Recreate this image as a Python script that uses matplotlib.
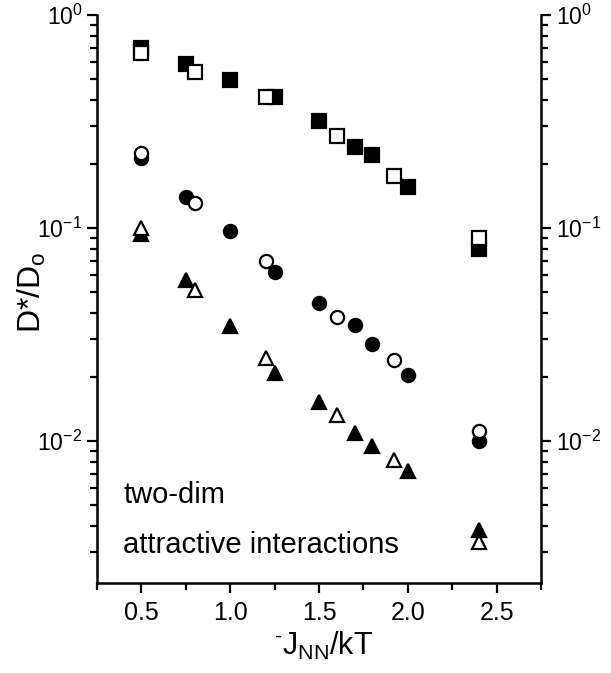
import matplotlib
matplotlib.use("Agg")
import matplotlib.pyplot as plt
from matplotlib.ticker import LogLocator, MultipleLocator, NullFormatter

plt.rcParams['font.family'] = ['Liberation Sans', 'DejaVu Sans']
plt.rcParams['mathtext.fontset'] = 'custom'
plt.rcParams['mathtext.rm'] = 'Liberation Sans'
plt.rcParams['mathtext.it'] = 'Liberation Sans'
plt.rcParams['mathtext.default'] = 'regular'

# squares
sq_fill_x = [0.5, 0.75, 1.0, 1.25, 1.5, 1.7, 1.8, 2.0, 2.4]
sq_fill_y = [0.70, 0.587, 0.495, 0.41, 0.318, 0.239, 0.219, 0.156, 0.080]
sq_open_x = [0.5, 0.8, 1.2, 1.6, 1.92, 2.4]
sq_open_y = [0.66, 0.542, 0.41, 0.271, 0.176, 0.0895]

# circles
ci_fill_x = [0.5, 0.75, 1.0, 1.25, 1.5, 1.7, 1.8, 2.0, 2.4]
ci_fill_y = [0.212, 0.139, 0.097, 0.0624, 0.0443, 0.0349, 0.0284, 0.0204, 0.0100]
ci_open_x = [0.5, 0.8, 1.2, 1.6, 1.92, 2.4]
ci_open_y = [0.224, 0.131, 0.0703, 0.0381, 0.024, 0.0111]

# triangles
tr_fill_x = [0.5, 0.75, 1.0, 1.25, 1.5, 1.7, 1.8, 2.0, 2.4]
tr_fill_y = [0.0934, 0.057, 0.0347, 0.0209, 0.0152, 0.0109, 0.0095, 0.0072, 0.00382]
tr_open_x = [0.5, 0.8, 1.2, 1.6, 1.92, 2.4]
tr_open_y = [0.0995, 0.0512, 0.0244, 0.0133, 0.0081, 0.00334]

fig = plt.figure(figsize=(6.11, 6.73), dpi=100)
ax = fig.add_axes([0.1588, 0.1337, 0.7266, 0.844])

ms = 9.5
mew = 1.6
ax.plot(sq_fill_x, sq_fill_y, 's', color='k', ms=ms, mew=mew, zorder=3)
ax.plot(sq_open_x, sq_open_y, 's', mfc='white', mec='k', ms=ms, mew=mew, zorder=4)
ax.plot(ci_fill_x, ci_fill_y, 'o', color='k', ms=ms, mew=mew, zorder=3)
ax.plot(ci_open_x, ci_open_y, 'o', mfc='white', mec='k', ms=ms, mew=mew, zorder=4)
ax.plot(tr_fill_x, tr_fill_y, '^', color='k', ms=ms + 1, mew=mew, zorder=3)
ax.plot(tr_open_x, tr_open_y, '^', mfc='white', mec='k', ms=ms + 1, mew=mew, zorder=4)

ax.set_yscale('log')
ax.set_xlim(0.25, 2.75)
ax.set_ylim(2.15e-3, 1.0)

ax.xaxis.set_major_locator(MultipleLocator(0.5))
ax.xaxis.set_minor_locator(MultipleLocator(0.25))
ax.yaxis.set_major_locator(LogLocator(base=10))
ax.yaxis.set_minor_locator(LogLocator(base=10, subs=range(2, 10)))
ax.yaxis.set_minor_formatter(NullFormatter())

ax.spines['top'].set_visible(False)
for s in ['left', 'right', 'bottom']:
    ax.spines[s].set_linewidth(1.8)

ax.tick_params(which='both', direction='out', width=1.6, labelsize=16.5,
               left=True, right=True, labelright=True, top=False)
ax.tick_params(which='major', length=7)
ax.tick_params(which='minor', length=5)
ax.tick_params(axis='x', which='both', pad=6, labelsize=18)

# axis labels placed by hand, as in the original figure
fig.text(0.052, 0.566, 'D*/D$_{\\rm o}$', fontsize=23, rotation=90,
         ha='center', va='center')
fig.text(0.53, 0.027, '$^{\\text{-}}$J$_{\\rm NN}$/kT', fontsize=22,
         ha='center', va='baseline')

ax.text(0.059, 0.141, 'two-dim', transform=ax.transAxes, fontsize=21,
        va='baseline')
ax.text(0.059, 0.053, 'attractive interactions', transform=ax.transAxes,
        fontsize=21, va='baseline')

fig.savefig('out.png', dpi=100)
